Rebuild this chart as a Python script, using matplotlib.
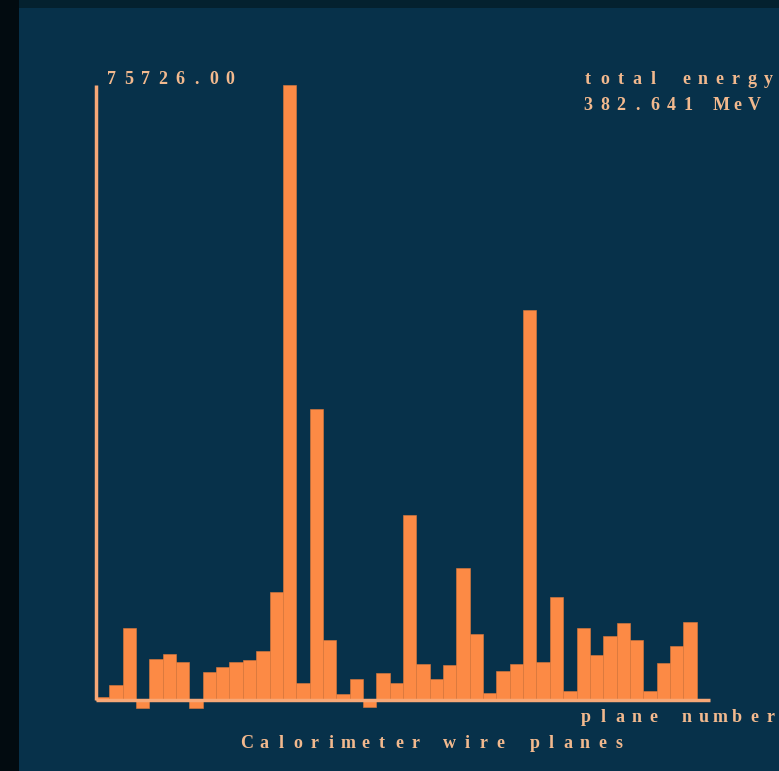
import matplotlib
matplotlib.use("Agg")
import matplotlib.pyplot as plt
from matplotlib.patches import Rectangle
import numpy as np

# ---- data ----
plane_values = [370, 1850, 8860, -985, 5050, 5660, 4680, -985, 3450, 4060,
                4680, 4920, 6030, 13300, 75726, 2090, 35820, 7390, 740, 2590,
                -860, 3320, 2090, 22770, 4430, 2590, 4310, 16250, 8120, 860,
                3570, 4430, 48010, 4680, 12680, 1110, 8860, 5540, 7880, 9480,
                7390, 1110, 4550, 6650, 9600, 120]
max_label = "75726.00"
energy_title = "total energy"
energy_value = "382.641 MeV"
x_label = "plane number"
title = "Calorimeter wire planes"

W, H = 779, 771
BG = "#07314a"
BAR = "#fc8a45"
AXC = "#f7a877"
TXT = "#f2b98e"

fig = plt.figure(figsize=(W / 100, H / 100), dpi=100, facecolor=BG)

# dark borders
fig.patches.append(Rectangle((0, 1 - 8 / H), 1, 8 / H, transform=fig.transFigure,
                             facecolor="#04212f", edgecolor="none", zorder=0))
fig.patches.append(Rectangle((0, 0), 19 / W, 1, transform=fig.transFigure,
                             facecolor="#020b10", edgecolor="none", zorder=0))

# axes in pixel geometry
left_px, right_px = 96, 710
top_px, base_px, bottom_px = 85, 700, 712
vmax = max(plane_values)
scale = vmax / (base_px - top_px)
ax = fig.add_axes([left_px / W, (H - bottom_px) / H,
                   (right_px - left_px) / W, (bottom_px - top_px) / H])
ax.set_facecolor("none")
n = len(plane_values)
ax.set_xlim(0, n)
ax.set_ylim(-(bottom_px - base_px) * scale, vmax)
for s in ax.spines.values():
    s.set_visible(False)
ax.set_xticks([])
ax.set_yticks([])

x = np.arange(n)
ax.bar(x, plane_values, width=1.0, align="edge", color=BAR,
       edgecolor="#e07a3c", linewidth=0.4, zorder=2)

# axis lines
ax.plot([0, 0], [0, vmax], color=AXC, lw=2.5, solid_capstyle="butt", zorder=3, clip_on=False)
ax.plot([0, n], [0, 0], color=AXC, lw=2.5, solid_capstyle="butt", zorder=3, clip_on=False)


def spaced(text, x0, pitch, y, size=13):
    for i, ch in enumerate(text):
        if ch == " ":
            continue
        fig.text((x0 + i * pitch) / W, 1 - y / H, ch, ha="center", va="center",
                 color=TXT, fontsize=size, fontweight="bold",
                 family="Liberation Serif")


spaced(max_label, 112, 16.9, 79)
spaced(energy_title, 588, 16.4, 79)
spaced(energy_value, 588, 16.6, 106)
spaced(x_label, 586, 16.8, 718)
spaced(title, 247, 16.9, 744)

fig.savefig("out.png", dpi=100, facecolor=BG)
